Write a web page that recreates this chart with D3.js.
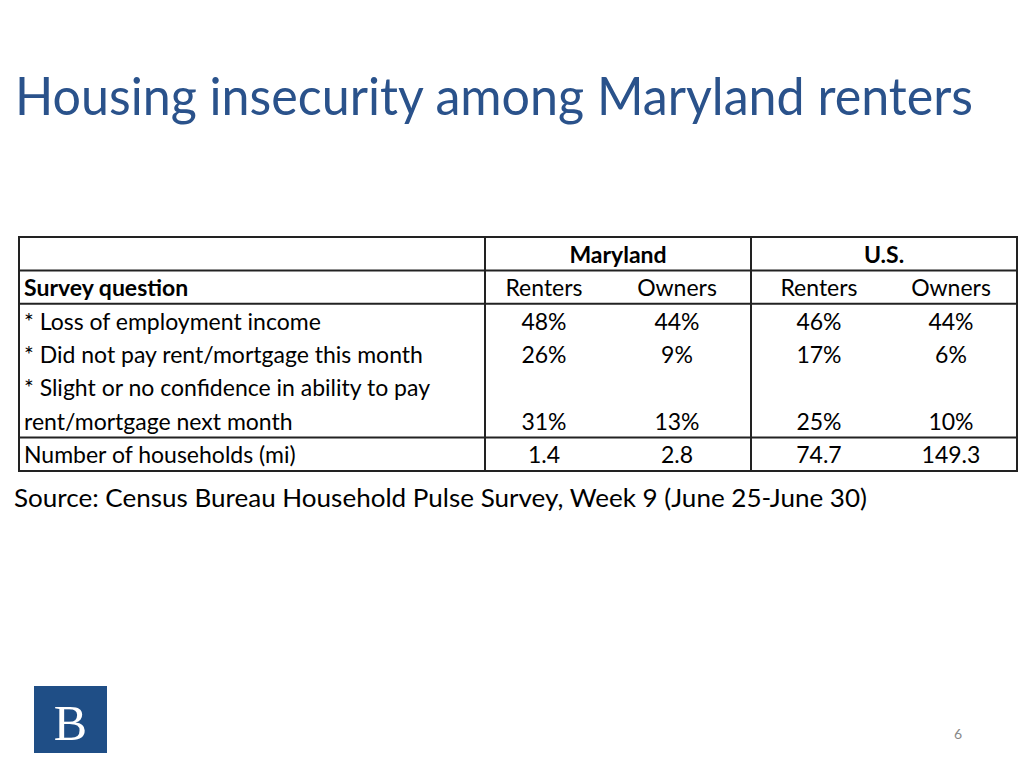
<!DOCTYPE html>
<html><head><meta charset="utf-8">
<script src="https://cdn.jsdelivr.net/npm/d3@7"></script>
<style>body{margin:0;background:#fff}svg{display:block}</style>
</head><body>
<div id="chart"></div>
<script>
// ---- data ----
const title = "Housing insecurity among Maryland renters";
const source = "Source: Census Bureau Household Pulse Survey, Week 9 (June 25-June 30)";
const groups = ["Maryland", "U.S."];
const tenures = ["Renters", "Owners"];
const rowHeader = "Survey question";
const questions = [
  ["* Loss of employment income"],
  ["* Did not pay rent/mortgage this month"],
  ["* Slight or no confidence in ability to pay", "rent/mortgage next month"],
  ["Number of households (mi)"]
];
const mdRenters = ["48%", "26%", "31%", "1.4"];
const mdOwners  = ["44%", "9%", "13%", "2.8"];
const usRenters = ["46%", "17%", "25%", "74.7"];
const usOwners  = ["44%", "6%", "10%", "149.3"];
const pageNum = "6";

const W = 1024, H = 768;
const FONT = "Lato, 'Open Sans', sans-serif";
const svg = d3.select("#chart").append("svg").attr("width", W).attr("height", H);

// title
svg.append("text").attr("x", 15).attr("y", 115)
  .attr("fill", "#2a528b").attr("font-family", FONT).attr("font-size", 52)
  .attr("textLength", 958).attr("lengthAdjust", "spacingAndGlyphs")
  .text(title);

// table geometry
const tblLeft = 19, tblRight = 1017, tblTop = 237, tblBottom = 471;
const gx = d3.scaleBand().domain(groups).range([485, tblRight]);
const sxRanges = {"Maryland": [59, 192], "U.S.": [68, 200]};
const sx = gr => d3.scalePoint().domain(tenures).range(sxRanges[gr]);
const rowIds = d3.range(7);
const y = d3.scaleBand().domain(rowIds).range([tblTop, tblBottom]);
const yc = i => y(i) + y.bandwidth() / 2 + 9;

const g = svg.append("g").attr("font-family", FONT).attr("fill", "#000");
const fs = 23;

// group headers
g.selectAll("text.grp").data(groups).join("text").attr("class", "grp")
  .attr("x", d => gx(d) + gx.bandwidth() / 2).attr("y", yc(0))
  .attr("text-anchor", "middle").attr("font-weight", "bold").attr("font-size", fs)
  .text(d => d);

// tenure headers
groups.forEach(gr => {
  g.selectAll(null).data(tenures).join("text")
    .attr("x", d => gx(gr) + sx(gr)(d)).attr("y", yc(1))
    .attr("text-anchor", "middle").attr("font-size", fs).text(d => d);
});

g.append("text").attr("x", 24).attr("y", yc(1)).attr("font-weight", "bold")
  .attr("font-size", fs).text(rowHeader);

// question labels
const qRows = [[2], [3], [4, 5], [6]];
questions.forEach((lines, qi) => {
  lines.forEach((ln, li) => {
    g.append("text").attr("x", 24).attr("y", yc(qRows[qi][li]))
      .attr("font-size", fs).text(ln);
  });
});

// values
const cols = [
  {grp: "Maryland", ten: "Renters", vals: mdRenters},
  {grp: "Maryland", ten: "Owners", vals: mdOwners},
  {grp: "U.S.", ten: "Renters", vals: usRenters},
  {grp: "U.S.", ten: "Owners", vals: usOwners}
];
cols.forEach(c => {
  g.selectAll(null).data(c.vals).join("text")
    .attr("x", gx(c.grp) + sx(c.grp)(c.ten))
    .attr("y", (d, i) => yc(qRows[i][qRows[i].length - 1]))
    .attr("text-anchor", "middle").attr("font-size", fs).text(d => d);
});

// grid lines
const hLines = [0, 1, 2, 6, 7].map(i => i < 7 ? y(i) : tblBottom);
svg.append("g").selectAll("line").data(hLines).join("line")
  .attr("x1", tblLeft - 1).attr("x2", tblRight + 1)
  .attr("y1", d => d).attr("y2", d => d)
  .attr("stroke", "#222").attr("stroke-width", 2);
const vLines = [tblLeft, gx("Maryland"), gx("U.S."), tblRight];
svg.append("g").selectAll("line").data(vLines).join("line")
  .attr("x1", d => d).attr("x2", d => d)
  .attr("y1", tblTop).attr("y2", tblBottom)
  .attr("stroke", "#222").attr("stroke-width", 2);

// source
svg.append("text").attr("x", 14).attr("y", 507)
  .attr("font-family", FONT).attr("font-size", 24.5).attr("fill", "#000")
  .attr("textLength", 853).attr("lengthAdjust", "spacingAndGlyphs")
  .text(source);

// logo
svg.append("rect").attr("x", 34).attr("y", 686).attr("width", 73).attr("height", 67)
  .attr("fill", "#1f4e86");
svg.append("text").attr("x", 70.5).attr("y", 740).attr("text-anchor", "middle")
  .attr("font-family", "'Liberation Serif', 'DejaVu Serif', serif").attr("font-size", 50)
  .attr("fill", "#fff").text("B");

// page number
svg.append("text").attr("x", 958).attr("y", 739).attr("text-anchor", "middle")
  .attr("font-family", FONT).attr("font-size", 14).attr("fill", "#888").text(pageNum);
</script>
</body></html>
